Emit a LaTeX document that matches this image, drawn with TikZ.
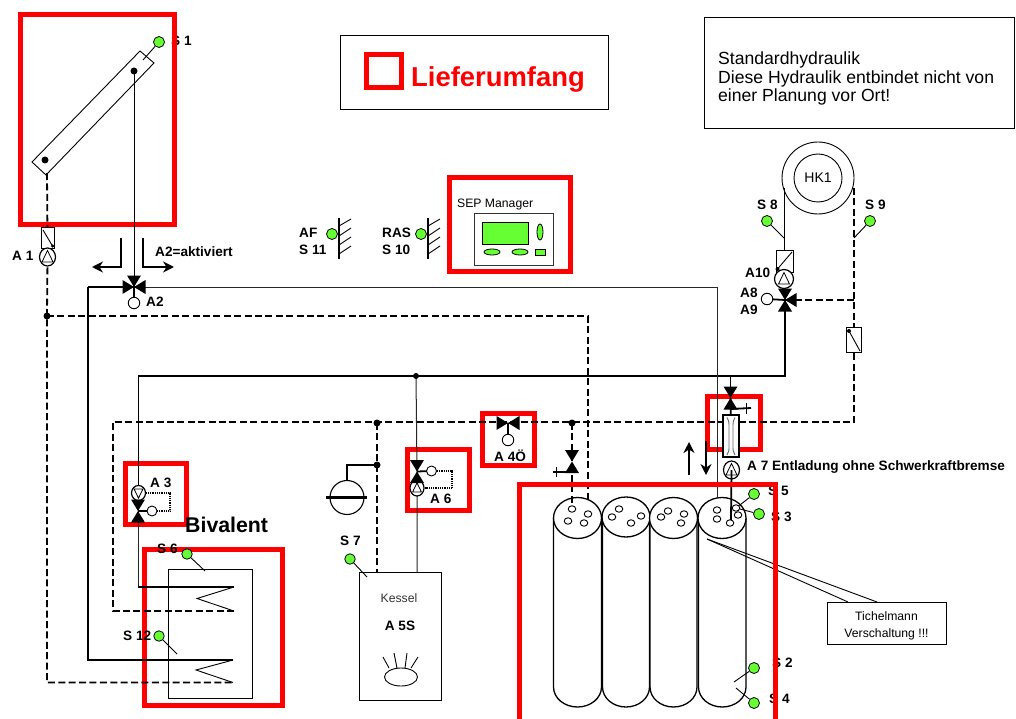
\documentclass[tikz,border=0pt]{standalone}
\usepackage{fontspec}
\setmainfont{Liberation Sans}
\usepackage{xcolor}
\usepackage{tikz}
\usetikzlibrary{arrows.meta,shapes,positioning}
\definecolor{framered}{RGB}{255,0,0}
\definecolor{sensorgreen}{RGB}{102,255,51}

\begin{document}
\begin{tikzpicture}[
    x=1pt, y=-1pt,
    redframe/.style={draw=framered, line width=5pt, miter limit=10},
    thinbox/.style={draw=black, line width=0.9pt},
    pipe/.style={line width=1.8pt},
    thinpipe/.style={line width=1pt, draw=black!85},
    dashpipe/.style={line width=1.8pt, dash pattern=on 7pt off 3.4pt},
    signal/.style={line width=1.3pt, dash pattern=on 1pt off 0.8pt},
    wire/.style={line width=0.9pt},
    sensor/.style={circle, draw=black, fill=sensorgreen, line width=0.8pt, minimum size=11pt, inner sep=0pt},
    dot/.style={circle, fill=black, minimum size=7pt, inner sep=0pt},
    ring/.style={circle, draw=black, fill=white, line width=0.9pt, minimum size=11.5pt, inner sep=0pt},
    pump/.style={ellipse, draw=black, fill=white, line width=1.2pt, minimum width=16pt, minimum height=18pt, inner sep=0pt},
    hole/.style={ellipse, draw=black, fill=white, line width=0.9pt, minimum width=7.5pt, minimum height=6.5pt, inner sep=0pt},
    tanktop/.style={ellipse, draw=black, fill=white, line width=1.3pt, minimum width=48pt, minimum height=41pt, inner sep=0pt},
    tankbody/.style={line width=1.3pt},
    bold/.style={font=\fontsize{13.6}{15}\selectfont\bfseries, inner sep=0pt, anchor=west},
    plain/.style={font=\fontsize{12.2}{14}\selectfont, inner sep=0pt},
    arrow/.style={-{Stealth[length=11pt,width=11pt]}, line width=1.8pt},
    flow/.style={-{Stealth[length=11pt,width=11pt]}, line width=2.4pt},
    tip/.pic={\fill (0,0) -- (-11.5,-7) -- (-11.5,7) -- cycle;},
    pumpmark/.pic={\draw[line width=0.8pt] (-5.5,5) -- (0,-6.5) -- (5.5,5) -- cycle;}
]
    \useasboundingbox (0,0) rectangle (1016,719);

    % info boxes
    \node[thinbox, minimum width=268pt, minimum height=74pt] (scopebox) at (474,72) {};
    \node[thinbox, minimum width=310pt, minimum height=111pt] (notebox) at (859,72.5) {};
    \node[redframe, minimum width=35pt, minimum height=33pt, inner sep=0pt] (scopemark) at (384,71) {};
    \node[right=7pt of scopemark.east, text=framered, inner sep=0pt, font=\fontsize{27.4}{30}\selectfont\bfseries, yshift=-8pt] (scopetext) {Lieferumfang};
    \node[inner sep=0pt, anchor=north west, align=left, font=\fontsize{17.6}{18.6}\selectfont] (notetext) at (718,51.5) {Standardhydraulik\\Diese Hydraulik entbindet nicht von\\einer Planung vor Ort!};

    % red frames
    \node[bold] (s1txt) at (171,41) {S 1};
    \draw[redframe] (20,15) rectangle (174,225);
    \draw[redframe] (449.5,177.5) rectangle (570.5,271.5);
    \draw[redframe] (125.5,463.5) rectangle (186.5,524.5);
    \draw[redframe] (144.5,549.5) rectangle (282.5,705.5);
    \draw[redframe] (407.5,449.5) rectangle (469.5,510.5);
    \draw[redframe] (482.5,413.5) rectangle (534.5,465.5);
    \draw[redframe] (707.5,396.5) rectangle (760.5,449.5);

    % points of the hydraulics
    \coordinate (collhot) at (134,71);
    \coordinate (collcold) at (45,160);
    \coordinate (collout) at (47,173);
    \coordinate (a1at) at (47.5,257);
    \coordinate (a1boxat) at (47.5,237.5);
    \coordinate (lowjoin) at (47,316);
    \coordinate (lowleft) at (47,682.5);
    \coordinate (a2at) at (134,287);
    \coordinate (retcorner) at (88,287);
    \coordinate (retlow) at (88,660);
    \coordinate (feedcorner) at (717,287);
    \coordinate (feedend) at (717,498);
    \coordinate (t1dropend) at (588,500);
    \coordinate (hotleft) at (138,376);
    \coordinate (hotjoin) at (416,376);
    \coordinate (hotright) at (785,376);
    \coordinate (a7hot) at (730.5,376);
    \coordinate (a8at) at (785,300);
    \coordinate (a3at) at (138,511);
    \coordinate (a3pumpat) at (138.5,493);
    \coordinate (coil1a) at (138,587);
    \coordinate (coil1b) at (234,587);
    \coordinate (coil1c) at (197,598.5);
    \coordinate (coil1d) at (234,611);
    \coordinate (coldleft) at (113,611);
    \coordinate (coldtop) at (113,422);
    \coordinate (coldright) at (854,422);
    \coordinate (coil2a) at (233,660);
    \coordinate (coil2b) at (196,670);
    \coordinate (coil2c) at (233,682.5);
    \coordinate (vesselend) at (347,465);
    \coordinate (vesselpipe) at (347,480);
    \coordinate (kesseljoin) at (377,423);
    \coordinate (vesseljoin) at (377,465);
    \coordinate (kesseltop) at (377,573);
    \coordinate (a6at) at (417,471.5);
    \coordinate (a6pumpat) at (417,488);
    \coordinate (kesselfeed) at (417,572);
    \coordinate (a4at) at (508,423);
    \coordinate (t1join) at (572,423);
    \coordinate (t1valve) at (572,461.5);
    \coordinate (t1end) at (572,509);
    \coordinate (a7valve) at (730.5,398);
    \coordinate (a7pumpat) at (731.5,470);
    \coordinate (a7end) at (731,521);
    \coordinate (hk1at) at (818,178);
    \coordinate (hkleft) at (784,188);
    \coordinate (hkbox) at (784,261);
    \coordinate (hkright) at (854,188);
    \coordinate (hkjoin) at (854,300);
    \coordinate (retbox) at (854,339.5);

    % solar circuit
    \draw[wire] (140,51) -- (154,63) -- (46,175) -- (32,162) -- cycle;
    \draw[dashpipe] (collout) -- (a1boxat);
    \draw[dashpipe] (a1at) -- (lowjoin) -- (lowleft) -- (coil2c);
    \draw[dashpipe] (lowjoin) -| (t1dropend);
    \draw[thinpipe, draw=black] (collhot) -- (a2at);

    % heating pipes
    \draw[pipe] (a2at) -- (retcorner);
    \draw[pipe, line width=1.2pt] (retcorner) -- (retlow) -- (coil2a);
    \draw[thinpipe] (a2at) -- (feedcorner) -- (feedend);
    \draw[pipe] (hotleft) -- (hotright) -- (a8at);
    \draw[thinpipe, draw=black] (hotleft) -- (a3at);
    \draw[thinpipe] (a3at) -- (coil1a);
    \draw[pipe] (coil1a) -- (coil1b);
    \draw[wire] (coil1b) -- (coil1c) -- (coil1d);
    \draw[wire] (coil2a) -- (coil2b) -- (coil2c);
    \draw[dashpipe] (coil1d) -- (coldleft) -- (coldtop) -- (coldright) -- (retbox);
    \draw[dashpipe] (hkright) -- (retbox);
    \draw[dashpipe] (hkjoin) -- (a8at);
    \draw[dashpipe] (kesseljoin) -- (kesseltop);
    \draw[pipe] (vesseljoin) -- (vesselend) -- (vesselpipe);
    \draw[thinpipe] (hotjoin) -- (a6at) -- (kesselfeed);
    \draw[pipe] (a7hot) -- (a7valve);
    \draw[thinpipe, draw=black] (hkleft) -- (hkbox);

    % direction arrows
    \coordinate (leftbend) at (121,267);
    \coordinate (rightbend) at (143,267);
    \coordinate (leftstart) at (121,238);
    \coordinate (rightstart) at (143,238);
    \coordinate (leftend) at (92,267);
    \coordinate (rightend) at (174,267);
    \draw[arrow] (leftstart) -- (leftbend) -- (leftend);
    \draw[arrow] (rightstart) -- (rightbend) -- (rightend);
    \node[bold] (a2note) at (155,252) {A2=aktiviert};
    \coordinate (upfoot) at (689,475);
    \coordinate (uphead) at (689,442);
    \coordinate (downfoot) at (706,441);
    \coordinate (downhead) at (706,475);
    \draw[flow] (upfoot) -- (uphead);
    \draw[flow] (downfoot) -- (downhead);

    % junctions
    \node[dot] (collhotdot) at (collhot) {};
    \node[dot] (collcolddot) at (collcold) {};
    \node[dot] (lowjoindot) at (lowjoin) {};
    \node[dot, minimum size=6pt] (hotjoindot) at (hotjoin) {};
    \node[dot] (kesseljoindot) at (kesseljoin) {};
    \node[dot] (vesseljoindot) at (vesseljoin) {};
    \node[dot] (t1joindot) at (t1join) {};

    % collector sensor
    \node[sensor] (s1) at (159,42) {};
    \coordinate (s1end) at (143,60);
    \draw[wire] (s1) -- (s1end);

    % A1
    \node[thinbox, fill=white, minimum width=13pt, minimum height=21pt, inner sep=0pt] (a1box) at (a1boxat) {};
    \coordinate (a1boxa) at (43,230);
    \coordinate (a1boxb) at (52.5,246);
    \draw[wire] (a1boxa) -- (a1boxb);
    \node[dot, minimum size=3.5pt] (a1boxdot) at (a1boxb) {};
    \node[pump] (a1) at (a1at) {};
    \pic at (a1at) {pumpmark};
    \node[bold] (a1txt) at (12,256) {A 1};

    % valve A2
    \coordinate (a2sign) at (134,303);
    \draw[pipe] (a2at) -- (a2sign);
    \node[ring] (a2ring) at (a2sign) {};
    \pic[rotate=-90] at (a2at) {tip};
    \pic at (a2at) {tip};
    \pic[rotate=180] at (a2at) {tip};
    \node[bold] (a2txt) at (146,302) {A2};

    % outdoor and room sensor
    \node[sensor] (s11) at (332,234) {};
    \coordinate (wallatop) at (339,218);
    \coordinate (wallabot) at (339,259);
    \draw[pipe] (wallatop) -- (wallabot);
    \draw[wire] (339,226) -- (351,219);
    \draw[wire] (339,236) -- (351,228);
    \draw[wire] (339,245) -- (351,237);
    \draw[wire] (339,254) -- (351,246);
    \node[bold] (aftxt) at (299,233) {AF};
    \node[bold] (s11txt) at (299,250) {S 11};
    \node[sensor] (s10) at (421,234) {};
    \coordinate (wallbtop) at (428,218);
    \coordinate (wallbbot) at (428,259);
    \draw[pipe] (wallbtop) -- (wallbbot);
    \draw[wire] (428,226) -- (440,219);
    \draw[wire] (428,236) -- (440,228);
    \draw[wire] (428,245) -- (440,237);
    \draw[wire] (428,254) -- (440,246);
    \node[bold] (rastxt) at (382,233) {RAS};
    \node[bold] (s10txt) at (382,250) {S 10};

    % SEP manager
    \node[plain, anchor=west] (septxt) at (457,205) {SEP Manager};
    \node[thinbox, draw=black!80, fill=white, minimum width=79pt, minimum height=52pt] (sepbox) at (513.5,239) {};
    \node[draw=black, fill=sensorgreen, line width=0.8pt, minimum width=46pt, minimum height=22pt, inner sep=0pt] (sepscreen) at (505,233) {};
    \node[ellipse, draw=black, fill=sensorgreen, line width=0.8pt, minimum width=6pt, minimum height=16pt, inner sep=0pt] (sepknob) at (540,232) {};
    \node[ellipse, draw=black, fill=sensorgreen, line width=0.8pt, minimum width=16pt, minimum height=6pt, inner sep=0pt] (sepkeya) at (492,252) {};
    \node[ellipse, draw=black, fill=sensorgreen, line width=0.8pt, minimum width=16pt, minimum height=6pt, inner sep=0pt] (sepkeyb) at (520,252) {};
    \node[draw=black, fill=sensorgreen, line width=0.8pt, minimum width=10.5pt, minimum height=5.5pt, inner sep=0pt] (sepkeyc) at (540.5,252.5) {};

    % heating circuit
    \node[circle, draw=black, line width=0.9pt, minimum size=72pt, inner sep=0pt] (hk1outer) at (hk1at) {};
    \node[circle, draw=black, line width=0.9pt, minimum size=48pt, inner sep=0pt, font=\fontsize{14}{16}\selectfont] (hk1) at (hk1at) {HK1};
    \node[sensor] (s8) at (767,221) {};
    \coordinate (s8end) at (784,238);
    \draw[wire] (s8) -- (s8end);
    \node[bold] (s8txt) at (757,205) {S 8};
    \node[sensor] (s9) at (870,221) {};
    \coordinate (s9end) at (854,238);
    \draw[wire] (s9) -- (s9end);
    \node[bold] (s9txt) at (865,205) {S 9};
    \node[thinbox, fill=white, minimum width=17pt, minimum height=22pt, inner sep=0pt] (hkboxn) at (784.5,261) {};
    \coordinate (hkboxa) at (777.5,269);
    \coordinate (hkboxb) at (792,252);
    \draw[wire] (hkboxa) -- (hkboxb);
    \node[dot, minimum size=4pt] (hkboxdot) at (hkboxa) {};
    \coordinate (a10at) at (784,279);
    \node[pump, minimum width=19pt, minimum height=19pt] (a10) at (a10at) {};
    \pic at (a10at) {pumpmark};
    \node[bold] (a10txt) at (745,273) {A10};
    \coordinate (a8sign) at (767,299);
    \draw[pipe] (a8at) -- (a8sign);
    \node[ring] (a8ring) at (a8sign) {};
    \pic[rotate=-90] at (a8at) {tip};
    \pic[rotate=90] at (a8at) {tip};
    \pic[rotate=180] at (a8at) {tip};
    \node[bold] (a8txt) at (740,293) {A8};
    \node[bold] (a9txt) at (740,310) {A9};
    \node[thinbox, fill=white, minimum width=15pt, minimum height=25pt, inner sep=0pt] (retboxn) at (retbox) {};
    \coordinate (retboxa) at (849,331);
    \coordinate (retboxb) at (860,351);
    \draw[wire] (retboxa) -- (retboxb);
    \node[dot, minimum size=4pt] (retboxdot) at (retboxa) {};

    % A3
    \node[pump, minimum width=14pt, minimum height=15pt] (a3pump) at (a3pumpat) {};
    \pic[rotate=180, scale=0.8] at (a3pumpat) {pumpmark};
    \coordinate (a3sign) at (152,511);
    \coordinate (a3dota) at (170,493);
    \coordinate (a3dotb) at (170,511);
    \draw[signal] (a3pump) -- (a3dota) -- (a3dotb) -- (a3sign);
    \draw[pipe] (a3at) -- (a3sign);
    \node[ring, minimum size=10pt] (a3ring) at (a3sign) {};
    \pic[rotate=-90] at (a3at) {tip};
    \pic[rotate=90] at (a3at) {tip};
    \node[bold] (a3txt) at (150,483) {A 3};

    % A6
    \node[pump, minimum width=14pt, minimum height=16pt] (a6pump) at (a6pumpat) {};
    \pic[scale=0.8] at (a6pumpat) {pumpmark};
    \coordinate (a6sign) at (431.5,471);
    \coordinate (a6dota) at (452,471);
    \coordinate (a6dotb) at (452,488);
    \draw[signal] (a6sign) -- (a6dota) -- (a6dotb) -- (a6pump);
    \draw[pipe] (a6at) -- (a6sign);
    \node[ring, minimum size=10pt] (a6ring) at (a6sign) {};
    \pic[rotate=-90] at (a6at) {tip};
    \pic[rotate=90] at (a6at) {tip};
    \node[bold] (a6txt) at (430,499) {A 6};

    % A4
    \coordinate (a4sign) at (508,440);
    \draw[pipe] (a4at) -- (a4sign);
    \node[ring] (a4ring) at (a4sign) {};
    \pic at (a4at) {tip};
    \pic[rotate=180] at (a4at) {tip};
    \node[bold] (a4txt) at (494,456) {A 4Ö};

    % valve over tank one
    \pic[rotate=-90] at (t1valve) {tip};
    \pic[rotate=90] at (t1valve) {tip};
    \coordinate (t1handle) at (553,472);
    \coordinate (t1base) at (572,472);
    \coordinate (t1ticka) at (556,467);
    \coordinate (t1tickb) at (556,477);
    \draw[pipe] (t1base) -- (t1handle);
    \draw[pipe, line width=1pt] (t1ticka) -- (t1tickb);

    % A7
    \node[thinbox, line width=1.1pt, fill=white, minimum width=16pt, minimum height=42pt, inner sep=0pt] (a7tube) at (731,436) {};
    \draw[wire, black!60] (727,417.5) .. controls (729,421) and (729,423) .. (729,427) -- (729,446) .. controls (729,450) and (729,452) .. (727,455);
    \draw[wire, black!60] (735,417.5) .. controls (733,421) and (733,423) .. (733,427) -- (733,446) .. controls (733,450) and (733,452) .. (735,455);
    \pic[rotate=-90] at (a7valve) {tip};
    \pic[rotate=90] at (a7valve) {tip};
    \coordinate (a7base) at (730.5,409);
    \coordinate (a7handle) at (751,408);
    \coordinate (a7ticka) at (746,403);
    \coordinate (a7tickb) at (746,414);
    \draw[pipe] (a7base) -- (a7handle);
    \draw[pipe, line width=1pt] (a7ticka) -- (a7tickb);
    \draw[pipe] (a7valve) -- (a7tube);
    \node[pump] (a7) at (a7pumpat) {};
    \pic at (a7pumpat) {pumpmark};
    \node[bold] (a7txt) at (747,467) {A 7 Entladung ohne Schwerkraftbremse};

    % buffer with coil
    \node[thinbox, minimum width=84pt, minimum height=129pt] (store) at (210,633.5) {};
    \node[font=\fontsize{21.3}{23}\selectfont\bfseries, inner sep=0pt, anchor=west] (bivtxt) at (185,525) {Bivalent};
    \node[sensor, minimum size=10.5pt] (s6) at (187,554) {};
    \coordinate (s6end) at (205,571);
    \draw[wire] (s6) -- (s6end);
    \node[bold] (s6txt) at (157,549) {S 6};
    \node[sensor, minimum size=10.5pt] (s12) at (159,636) {};
    \coordinate (s12end) at (177,654);
    \draw[wire] (s12) -- (s12end);
    \node[bold] (s12txt) at (123,636) {S 12};

    % expansion vessel
    \node[circle, draw=black, line width=1.1pt, fill=white, minimum size=34pt, inner sep=0pt] (vessel) at (347,497.5) {};
    \coordinate (barleft) at (326,497.5);
    \coordinate (barright) at (367,497.5);
    \draw[pipe, line width=2.6pt] (barleft) -- (barright);

    % boiler
    \node[sensor, minimum size=10.5pt] (s7) at (350,559) {};
    \coordinate (s7end) at (367,577);
    \node[bold] (s7txt) at (340,541) {S 7};
    \node[thinbox, fill=white, minimum width=82pt, minimum height=128pt] (kessel) at (400,636) {};
    \draw[wire] (s7) -- (s7end);
    \node[plain, text=black!80] (kesseltxt) at (399,598) {Kessel};
    \node[bold, anchor=center] (a5txt) at (400,626) {A 5S};
    \node[ellipse, draw=black, line width=0.9pt, minimum width=33pt, minimum height=18pt, inner sep=0pt] (burner) at (401,677) {};
    \draw[wire] (389,668) -- (383,657);
    \draw[wire] (397,668) -- (394,653);
    \draw[wire] (405,668) -- (407,653);
    \draw[wire] (411,668) -- (418,657);

    % tanks
    \draw[tankbody, fill=white] (553.5,518) -- (553.5,687) arc (180:0:24 and 20) -- (601.5,518);
    \draw[tankbody, fill=white] (602.5,518) -- (602.5,687) arc (180:0:23.5 and 20) -- (649.5,518);
    \draw[tankbody, fill=white] (650,518) -- (650,687) arc (180:0:23.5 and 20) -- (697,518);
    \draw[tankbody, fill=white] (698.5,518) -- (698.5,687) arc (180:0:23.75 and 20) -- (746,518);
    \node[tanktop] (tank1) at (577.5,518) {};
    \node[tanktop, minimum height=40pt] (tank2) at (626,517) {};
    \node[tanktop] (tank3) at (673.5,518) {};
    \node[tanktop] (tank4) at (722,518) {};
    \draw[dashpipe] (t1join) -- (t1end);
    \draw[pipe] (a7pumpat) -- (a7end);
    \draw[thinpipe] (feedcorner) -- (feedend);
    \node[hole] (h1a) at (572,509) {};
    \node[hole] (h1b) at (588,514) {};
    \node[hole] (h1c) at (568,521) {};
    \node[hole] (h1d) at (584,523) {};
    \node[hole] (h2a) at (619,509) {};
    \node[hole] (h2b) at (641,516) {};
    \node[hole] (h2c) at (612,517) {};
    \node[hole] (h2d) at (631,523) {};
    \node[hole] (h3a) at (668,511) {};
    \node[hole] (h3b) at (684,514) {};
    \node[hole] (h3c) at (661,517) {};
    \node[hole] (h3d) at (681,523) {};
    \node[hole] (h4a) at (717,510) {};
    \node[hole] (h4b) at (738,515) {};
    \node[hole] (h4c) at (717,519) {};
    \node[hole] (h4d) at (730,523) {};
    \node[hole] (h4e) at (736,508) {};

    % tank sensors
    \node[sensor] (s5) at (754,494) {};
    \draw[wire] (s5) -- (h4e);
    \node[sensor] (s3) at (759,514) {};
    \draw[wire] (s3) -- (h4e);
    \node[sensor] (s2) at (754,668) {};
    \coordinate (s2end) at (734,682);
    \draw[wire] (s2) -- (s2end);
    \node[sensor] (s4) at (754,703) {};
    \coordinate (s4end) at (736,688);
    \draw[wire] (s4) -- (s4end);
    \node[bold] (s5txt) at (768,491) {S 5};
    \node[bold] (s3txt) at (771,517) {S 3};
    \node[bold] (s2txt) at (772,663) {S 2};
    \node[bold] (s4txt) at (769,699) {S 4};

    % callout
    \coordinate (callfoot) at (707,539);
    \node[thinbox, fill=white, minimum width=119pt, minimum height=42pt] (callout) at (886.5,623) {};
    \node[align=center, inner sep=0pt, font=\fontsize{12.2}{17}\selectfont] (calltext) at (886.5,625.5) {Tichelmann\\Verschaltung !!!};
    \coordinate (calla) at (848,602);
    \coordinate (callb) at (877,602);
    \draw[wire] (callfoot) -- (calla);
    \draw[wire] (callfoot) -- (callb);

    % delivery frame around the tanks
    \coordinate (lieftopl) at (519.5,484.5);
    \coordinate (lieftopr) at (775.5,484.5);
    \coordinate (liefbotl) at (519.5,719);
    \coordinate (liefbotr) at (775.5,719);
    \draw[redframe] (liefbotl) -- (lieftopl) -- (lieftopr) -- (liefbotr);
\end{tikzpicture}
\end{document}
